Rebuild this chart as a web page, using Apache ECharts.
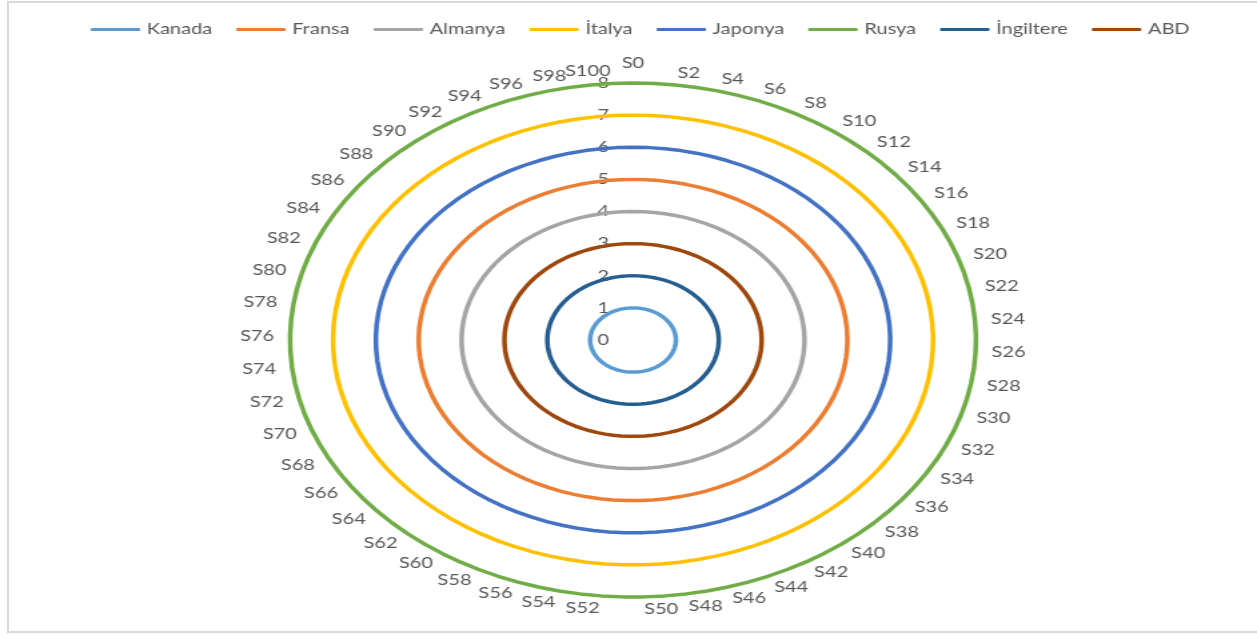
<!DOCTYPE html>
<html>
<head>
<meta charset="utf-8">
<script src="https://cdn.jsdelivr.net/npm/echarts@6/dist/echarts.min.js"></script>
<style>
  html, body { margin: 0; padding: 0; background: #ffffff; overflow: hidden; }
  #frame {
    position: absolute; left: 7px; top: 1px; width: 1270px; height: 632px;
    border: 2px solid #d9d9d9; box-sizing: border-box; pointer-events: none; z-index: 2;
  }
  /* the chart is laid out narrow and widened horizontally into an ellipse */
  #chart {
    position: absolute; left: 0; top: 0; width: 942px; height: 637px;
    transform: scaleX(1.3344); transform-origin: 0 0;
  }
</style>
</head>
<body>
<div id="chart"></div>
<div id="frame"></div>
<script>
// Spokes, going clockwise from the top; every second name is printed
const categories = [
  'S0','S1','S2','S3','S4','S5','S6','S7','S8','S9',
  'S10','S11','S12','S13','S14','S15','S16','S17','S18','S19',
  'S20','S21','S22','S23','S24','S25','S26','S27','S28','S29',
  'S30','S31','S32','S33','S34','S35','S36','S37','S38','S39',
  'S40','S41','S42','S43','S44','S45','S46','S47','S48','S49',
  'S50','S51','S52','S53','S54','S55','S56','S57','S58','S59',
  'S60','S61','S62','S63','S64','S65','S66','S67','S68','S69',
  'S70','S71','S72','S73','S74','S75','S76','S77','S78','S79',
  'S80','S81','S82','S83','S84','S85','S86','S87','S88','S89',
  'S90','S91','S92','S93','S94','S95','S96','S97','S98','S99',
  'S100'];
const categoryLabelStep = 2;

const radiusTicks = ['0','1','2','3','4','5','6','7','8'];

const seriesNames = ['Kanada','Fransa','Almanya','İtalya','Japonya','Rusya','İngiltere','ABD'];
const seriesColors = ['#5B9BD5','#ED7D31','#A5A5A5','#FFC000','#4472C4','#70AD47','#255E91','#9E480E'];

const kanada = [
  1,1,1,1,1,1,1,1,1,1, 1,1,1,1,1,1,1,1,1,1, 1,1,1,1,1,1,1,1,1,1, 1,1,1,1,1,1,1,1,1,1,
  1,1,1,1,1,1,1,1,1,1, 1,1,1,1,1,1,1,1,1,1, 1,1,1,1,1,1,1,1,1,1, 1,1,1,1,1,1,1,1,1,1,
  1,1,1,1,1,1,1,1,1,1, 1,1,1,1,1,1,1,1,1,1, 1];
const fransa = [
  5,5,5,5,5,5,5,5,5,5, 5,5,5,5,5,5,5,5,5,5, 5,5,5,5,5,5,5,5,5,5, 5,5,5,5,5,5,5,5,5,5,
  5,5,5,5,5,5,5,5,5,5, 5,5,5,5,5,5,5,5,5,5, 5,5,5,5,5,5,5,5,5,5, 5,5,5,5,5,5,5,5,5,5,
  5,5,5,5,5,5,5,5,5,5, 5,5,5,5,5,5,5,5,5,5, 5];
const almanya = [
  4,4,4,4,4,4,4,4,4,4, 4,4,4,4,4,4,4,4,4,4, 4,4,4,4,4,4,4,4,4,4, 4,4,4,4,4,4,4,4,4,4,
  4,4,4,4,4,4,4,4,4,4, 4,4,4,4,4,4,4,4,4,4, 4,4,4,4,4,4,4,4,4,4, 4,4,4,4,4,4,4,4,4,4,
  4,4,4,4,4,4,4,4,4,4, 4,4,4,4,4,4,4,4,4,4, 4];
const italya = [
  7,7,7,7,7,7,7,7,7,7, 7,7,7,7,7,7,7,7,7,7, 7,7,7,7,7,7,7,7,7,7, 7,7,7,7,7,7,7,7,7,7,
  7,7,7,7,7,7,7,7,7,7, 7,7,7,7,7,7,7,7,7,7, 7,7,7,7,7,7,7,7,7,7, 7,7,7,7,7,7,7,7,7,7,
  7,7,7,7,7,7,7,7,7,7, 7,7,7,7,7,7,7,7,7,7, 7];
const japonya = [
  6,6,6,6,6,6,6,6,6,6, 6,6,6,6,6,6,6,6,6,6, 6,6,6,6,6,6,6,6,6,6, 6,6,6,6,6,6,6,6,6,6,
  6,6,6,6,6,6,6,6,6,6, 6,6,6,6,6,6,6,6,6,6, 6,6,6,6,6,6,6,6,6,6, 6,6,6,6,6,6,6,6,6,6,
  6,6,6,6,6,6,6,6,6,6, 6,6,6,6,6,6,6,6,6,6, 6];
const rusya = [
  8,8,8,8,8,8,8,8,8,8, 8,8,8,8,8,8,8,8,8,8, 8,8,8,8,8,8,8,8,8,8, 8,8,8,8,8,8,8,8,8,8,
  8,8,8,8,8,8,8,8,8,8, 8,8,8,8,8,8,8,8,8,8, 8,8,8,8,8,8,8,8,8,8, 8,8,8,8,8,8,8,8,8,8,
  8,8,8,8,8,8,8,8,8,8, 8,8,8,8,8,8,8,8,8,8, 8];
const ingiltere = [
  2,2,2,2,2,2,2,2,2,2, 2,2,2,2,2,2,2,2,2,2, 2,2,2,2,2,2,2,2,2,2, 2,2,2,2,2,2,2,2,2,2,
  2,2,2,2,2,2,2,2,2,2, 2,2,2,2,2,2,2,2,2,2, 2,2,2,2,2,2,2,2,2,2, 2,2,2,2,2,2,2,2,2,2,
  2,2,2,2,2,2,2,2,2,2, 2,2,2,2,2,2,2,2,2,2, 2];
const abd = [
  3,3,3,3,3,3,3,3,3,3, 3,3,3,3,3,3,3,3,3,3, 3,3,3,3,3,3,3,3,3,3, 3,3,3,3,3,3,3,3,3,3,
  3,3,3,3,3,3,3,3,3,3, 3,3,3,3,3,3,3,3,3,3, 3,3,3,3,3,3,3,3,3,3, 3,3,3,3,3,3,3,3,3,3,
  3,3,3,3,3,3,3,3,3,3, 3,3,3,3,3,3,3,3,3,3, 3];

const seriesValues = [kanada, fransa, almanya, italya, japonya, rusya, ingiltere, abd];

// ECharts lays radar spokes out counter-clockwise, so keep the first spoke at
// the top and reverse the rest to run clockwise.
function clockwise(arr) {
  return [arr[0]].concat(arr.slice(1).reverse());
}

const axisMax = Number(radiusTicks[radiusTicks.length - 1]);
const labelFont = 'Lato, "Open Sans", sans-serif';

const shownNames = {};
categories.forEach(function (name, i) {
  if (i % categoryLabelStep === 0) shownNames[name] = true;
});

const indicator = clockwise(categories).map(function (name, i) {
  const ind = { name: name, min: 0, max: axisMax };
  if (i === 0) {
    ind.axisLabel = {
      show: true, color: '#595959', fontSize: 15, fontFamily: labelFont,
      margin: 18, showMinLabel: true, showMaxLabel: true
    };
  }
  return ind;
});

const chart = echarts.init(document.getElementById('chart'), null, { renderer: 'canvas' });

chart.setOption({
  animation: false,
  backgroundColor: '#ffffff',
  legend: {
    top: 17,
    left: 63,
    icon: 'roundRect',
    itemWidth: 37,
    itemHeight: 3,
    itemGap: 18,
    data: seriesNames,
    textStyle: { color: '#595959', fontSize: 15, fontFamily: labelFont }
  },
  radar: {
    center: ['50.36%', 340],
    radius: 257,
    startAngle: 90,
    shape: 'polygon',
    splitNumber: radiusTicks.length - 1,
    nameGap: 12,
    axisName: {
      color: '#595959', fontSize: 15, fontFamily: labelFont,
      formatter: function (name) { return shownNames[name] ? name : ''; }
    },
    axisLine: { show: false },
    axisTick: { show: false },
    splitLine: { show: false },
    splitArea: { show: false },
    axisLabel: { show: false },
    indicator: indicator
  },
  series: [{
    type: 'radar',
    symbol: 'none',
    silent: true,
    data: seriesNames.map(function (name, k) {
      return {
        name: name,
        value: clockwise(seriesValues[k]),
        itemStyle: { color: seriesColors[k] },
        lineStyle: { color: seriesColors[k], width: 3.5 }
      };
    })
  }]
});
</script>
</body>
</html>
